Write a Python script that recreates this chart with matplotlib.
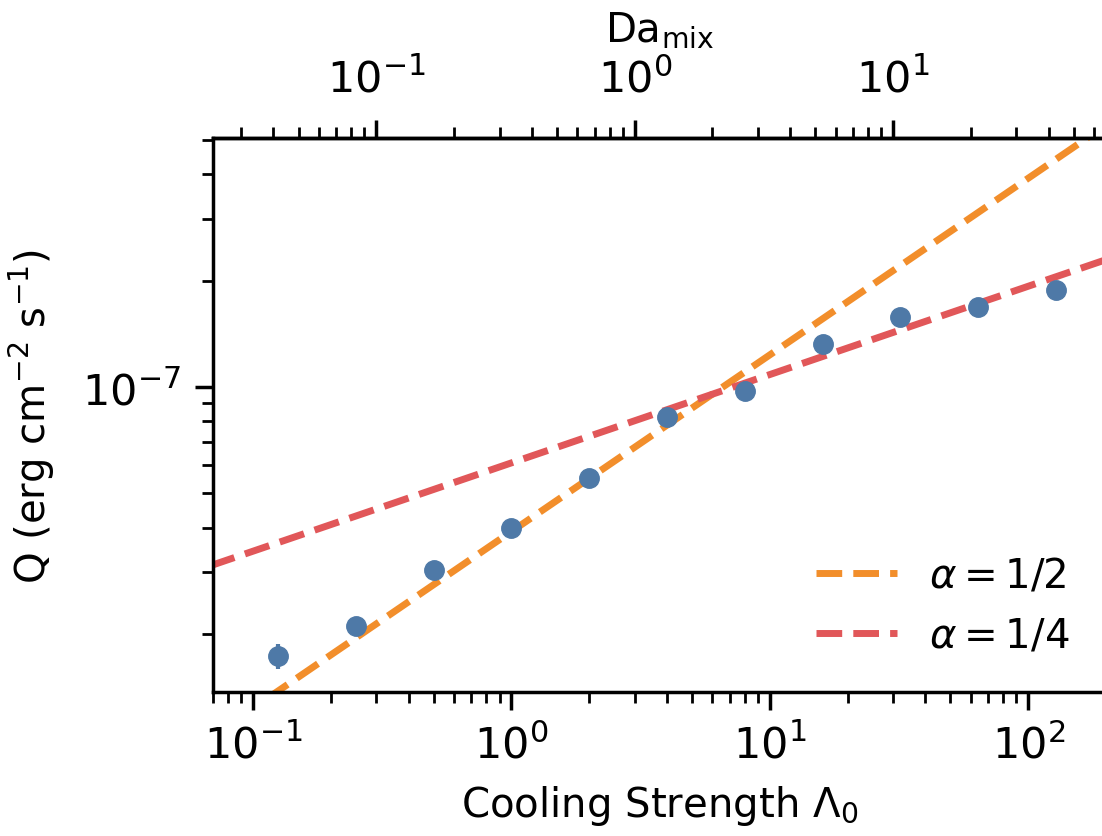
import numpy as np
import matplotlib
matplotlib.use("Agg")
import matplotlib.pyplot as plt
from matplotlib.ticker import FixedLocator, LogLocator

# Data
cooling = [0.125, 0.25, 0.5, 1, 2, 4, 8, 16, 32, 64, 128]
Q = [1.73e-8, 2.10e-8, 3.03e-8, 3.99e-8, 5.52e-8, 8.22e-8, 9.75e-8,
     1.32e-7, 1.58e-7, 1.69e-7, 1.88e-7]
Q_err = [0.14e-8, 0.05e-8, 0.05e-8, 0.05e-8, 0.1e-8, 0.3e-8, 0.2e-8,
         0.2e-8, 0.2e-8, 0.2e-8, 0.7e-8]
top_ticks = [0.1, 1, 10]

amp_half = 3.9e-8     # alpha = 1/2 normalisation
amp_quarter = 6.1e-8  # alpha = 1/4 normalisation
da_factor = 3.0       # Da_mix = Lambda_0 / 3

FS = 29
TFS = 31
plt.rcParams['font.size'] = FS
plt.rcParams['axes.linewidth'] = 2.5

fig = plt.figure(figsize=(11.02, 8.37), dpi=100)
ax = fig.add_axes([213/1102, (837-693)/837, 893/1102, (693-139)/837])

xline = np.logspace(np.log10(0.05), np.log10(300), 200)
ax.plot(xline, amp_half*xline**0.5, '--', color='#f28e2b', lw=5,
        label=r'$\alpha = 1/2$')
ax.plot(xline, amp_quarter*xline**0.25, '--', color='#e15759', lw=5,
        label=r'$\alpha = 1/4$')
ax.errorbar(cooling, Q, yerr=Q_err, fmt='o', color='#4e79a7', ms=14,
            elinewidth=3, capsize=0, zorder=5)

ax.set_xscale('log')
ax.set_yscale('log')
ax.set_xlim(0.07, 200)
ax.set_ylim(1.37e-8, 5.07e-7)
ax.spines['right'].set_visible(False)

ax.tick_params(which='major', length=13, width=2.5, labelsize=TFS, pad=10)
ax.tick_params(which='minor', length=8, width=2.0)
ax.tick_params(axis='y', which='minor', labelleft=False)

ax.set_xlabel(r'Cooling Strength $\Lambda_0$', fontsize=FS, labelpad=12)
ax.set_ylabel(r'Q (erg cm$^{-2}$ s$^{-1}$)', fontsize=FS, labelpad=18)

sec = ax.secondary_xaxis('top', functions=(lambda x: x/da_factor,
                                           lambda x: x*da_factor))
sec.xaxis.set_major_locator(FixedLocator(top_ticks))
sec.xaxis.set_minor_locator(LogLocator(base=10, subs=np.arange(2, 10), numticks=20))
sec.set_xlabel(r'Da$_{\rm mix}$', fontsize=FS, labelpad=12)
sec.tick_params(which='major', length=13, width=2.5, labelsize=TFS, pad=14)
sec.tick_params(which='minor', length=8, width=2.0)

ax.legend(loc='lower right', frameon=False, fontsize=FS)

fig.savefig('out.png', dpi=100)
